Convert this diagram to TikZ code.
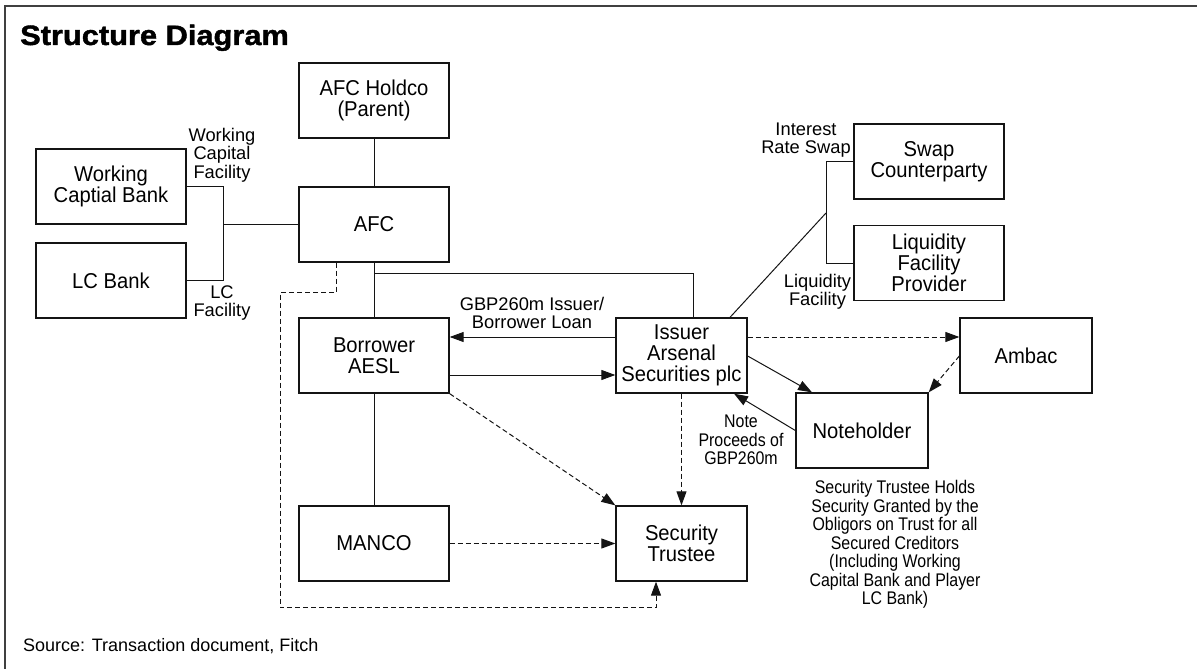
\documentclass[tikz,border=0pt]{standalone}
\usepackage{fontspec}
\setmainfont{Liberation Sans}
\newfontfamily\titlefont{Liberation Sans}[FakeStretch=1.1,FakeBold=1.5]
\newfontfamily\condfont{Liberation Sans}[FakeStretch=0.94]
\newfontfamily\narrowfont{Liberation Sans}[FakeStretch=0.87]
\usetikzlibrary{arrows.meta,calc}
\definecolor{frm}{HTML}{404040}
\definecolor{ln}{HTML}{141414}
\tikzset{
  box/.style={draw=ln, line width=1.3pt, align=center, minimum height=75pt, inner sep=2pt,
    font=\condfont\fontsize{21.5}{21}\selectfont},
  lbl/.style={align=center, inner sep=0pt, font=\fontsize{18.3}{18.5}\selectfont},
  con/.style={draw=ln, line width=1pt},
  dsh/.style={draw=ln, line width=1pt, dash pattern=on 5pt off 3pt},
  arr/.style={-{Triangle[length=14pt,width=10pt]}}
}
\begin{document}
\begin{tikzpicture}[x=1pt,y=-1pt]
\useasboundingbox (0,0) rectangle (1197,669);
% frame
\draw[frm, line width=2pt] (1197,6.5) -- (5,6.5) -- (5,669);
\node[anchor=base west, inner sep=0pt, font=\titlefont\bfseries\fontsize{28}{30}\selectfont] (title) at (20,45) {Structure Diagram};
\node[anchor=base west, inner sep=0pt, font=\fontsize{18}{20}\selectfont] (src) at (23,651) {Source: Transaction document, Fitch};

% boxes
\node[box, minimum width=150pt] (wcb) at (111,186.5) {Working\\Captial Bank};
\node[box, minimum width=150pt] (lcb) at (111,280.5) {LC Bank};
\node[box, minimum width=150pt] (holdco) at (374,100.5) {AFC Holdco\\(Parent)};
\node[box, minimum width=150pt] (afc) at (374,224.5) {AFC};
\node[box, minimum width=150pt] (borrower) at (374,355.5) {Borrower\\AESL};
\node[box, minimum width=150pt] (manco) at (374,543.5) {MANCO};
\node[box, minimum width=131pt] (issuer) at (681.5,355.5) {Issuer\\Arsenal\\Securities plc};
\node[box, minimum width=131pt] (st) at (681.5,543.5) {Security\\Trustee};
\node[box, minimum width=132pt] (note) at (862,430.5) {Noteholder};
\node[box, minimum width=132pt] (ambac) at (1026,355.5) {Ambac};
\node[box, minimum width=150pt] (swap) at (929,161.5) {Swap\\Counterparty};
\node[box, minimum width=150pt] (lfp) at (929,263) {Liquidity\\Facility\\Provider};

% labels
\node[lbl] (lwcf) at (222,155) {Working\\Capital\\Facility};
\node[lbl] (llcf) at (222,303) {LC\\Facility};
\node[lbl] (lloan) at (532,313) {GBP260m Issuer/\\Borrower Loan};
\node[lbl] (lirs) at (806,140) {Interest\\Rate Swap};
\node[lbl] (lliq) at (817.5,292) {Liquidity\\Facility};
\node[lbl, font=\narrowfont\fontsize{18.3}{18.5}\selectfont] (lnote) at (741,440) {Note\\Proceeds of\\GBP260m};
\node[lbl, font=\narrowfont\fontsize{18.3}{18.5}\selectfont] (lst) at (895,544.5) {Security Trustee Holds\\Security Granted by the\\Obligors on Trust for all\\Secured Creditors\\(Including Working\\Capital Bank and Player\\LC Bank)};

% connectors
\draw[con] (holdco) -- (afc);
\draw[con] (wcb.east) -- ++(37,0) coordinate (jb) |- (lcb.east);
\draw[con] (afc.west) -- (afc.west -| jb);
\draw[con] (afc) -- (borrower);
\draw[con] (borrower) -- (manco);
\draw[con] ([yshift=-11pt]afc.south) -| ([xshift=11.5pt]issuer.north);
\draw[dsh, arr] ([xshift=-38pt]afc.south) -- ++(0,30) -- ++(-56,0) -- ++(0,315) -| ([xshift=-25.5pt]st.south);
\draw[con, arr] ([yshift=18.5pt]issuer.west) -- ([yshift=18.5pt]borrower.east);
\draw[con, arr] ([yshift=-19.5pt]borrower.east) -- ([yshift=-19.5pt]issuer.west);
\draw[dsh, arr] (borrower.south east) -- (st.north west);
\draw[dsh, arr] (manco.east) -- (st.west);
\draw[dsh, arr] (issuer.south) -- (st.north);
\coordinate (ir) at (826,213);
\draw[con] ([xshift=48.5pt]issuer.north) -- (ir);
\draw[con] (swap.west) -- (swap.west -| ir) |- (lfp.west);
\draw[dsh, arr] ([yshift=18.5pt]issuer.east) -- ([yshift=18.5pt]ambac.west);
\draw[con, arr] ([yshift=-0.5pt]issuer.east) -- ([xshift=-50pt]note.north);
\draw[con, arr] (note.west) -- ([xshift=52.5pt]issuer.south);
\draw[dsh, arr] ([yshift=-0.5pt]ambac.west) -- (note.north east);
\end{tikzpicture}
\end{document}
